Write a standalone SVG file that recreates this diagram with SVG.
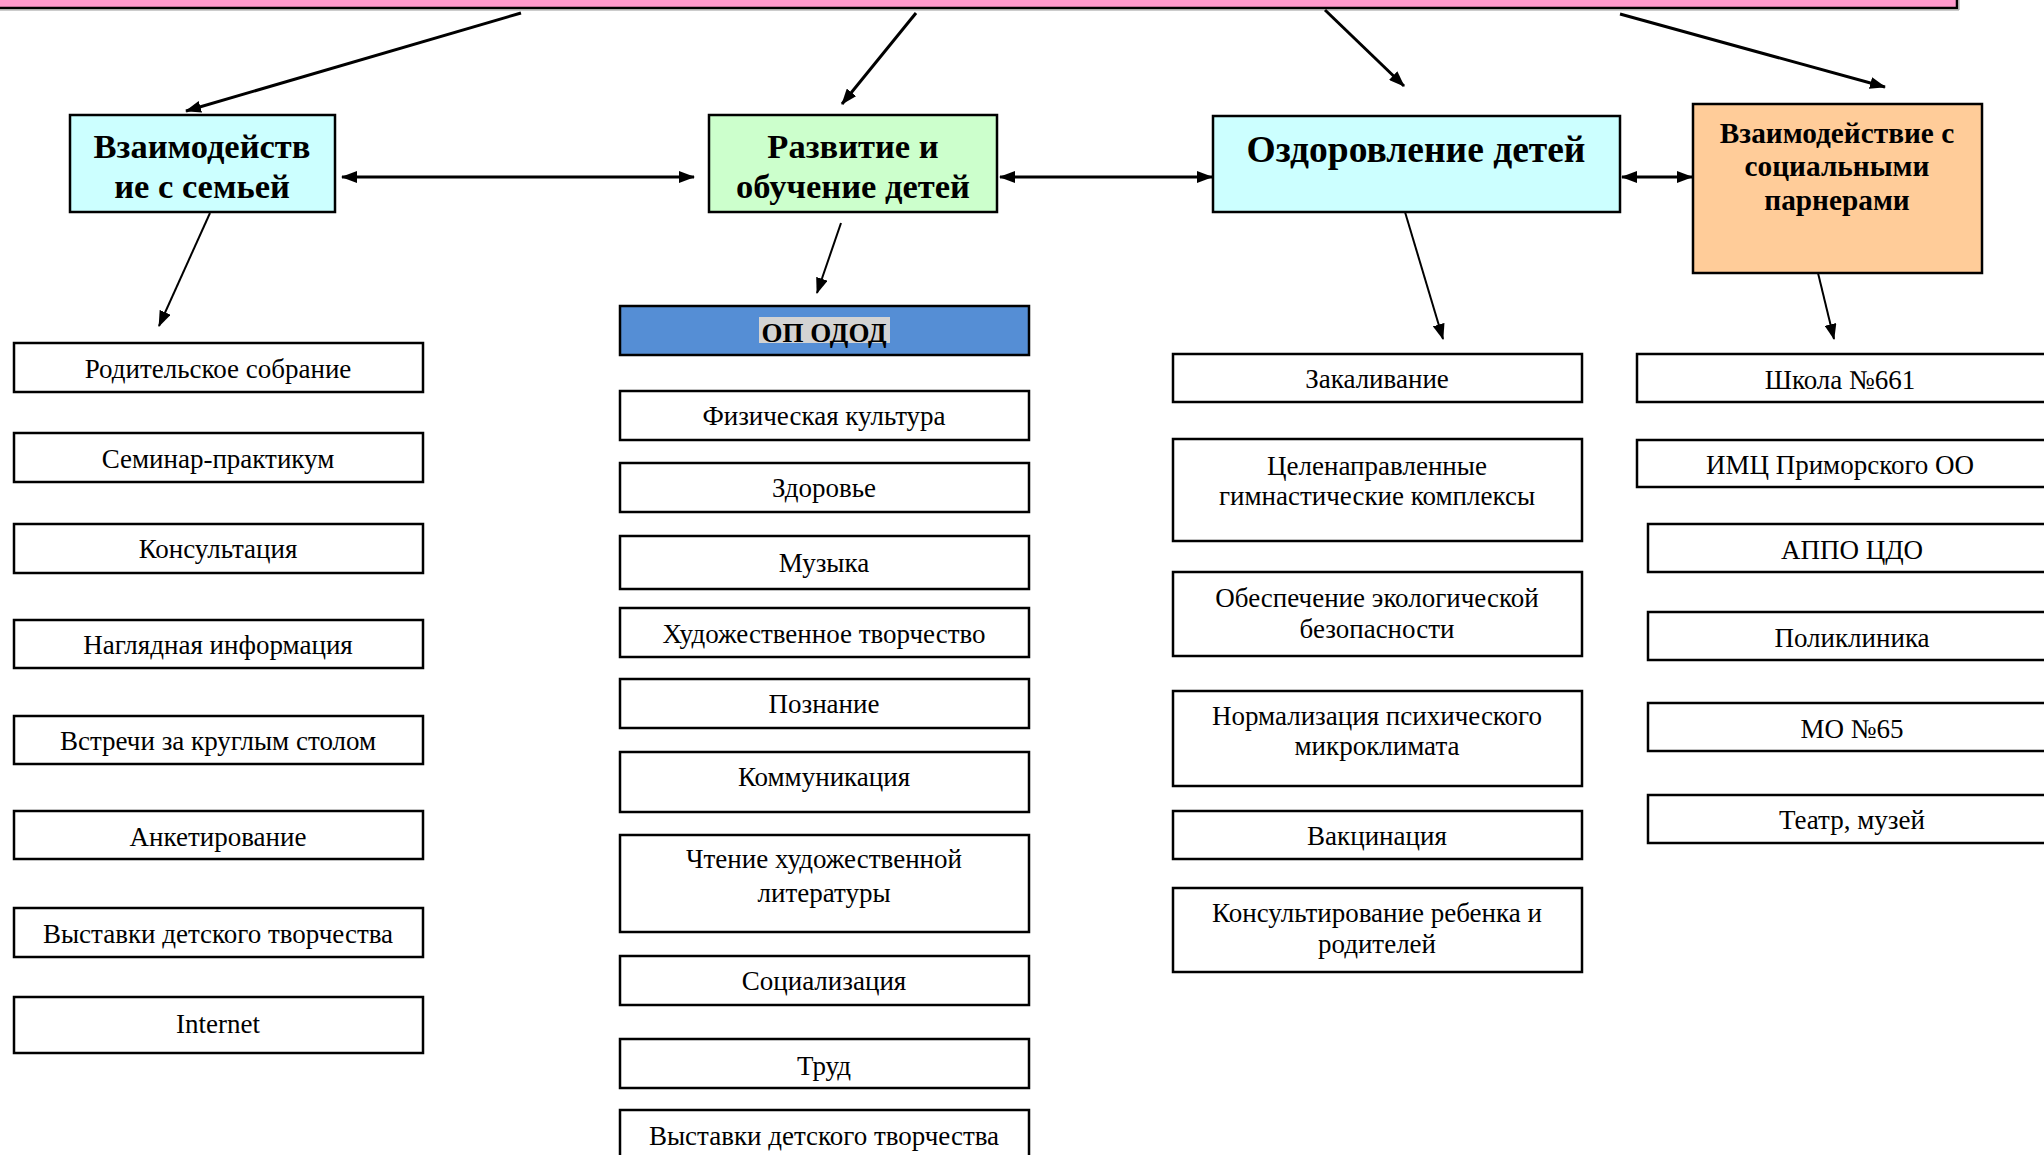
<svg xmlns="http://www.w3.org/2000/svg" width="2044" height="1155" viewBox="0 0 2044 1155">
<defs>
<style>
.box{fill:#ffffff;stroke:#000;stroke-width:2.5}
.t{font-family:"Liberation Serif","Times New Roman",serif;font-size:27px;fill:#000;text-anchor:middle}
.h{font-family:"Liberation Serif","Times New Roman",serif;font-weight:bold;fill:#000;text-anchor:middle}
.c{fill:none;stroke:#000}
</style>
<marker id="ah" viewBox="0 0 16 12" markerUnits="userSpaceOnUse" markerWidth="16" markerHeight="12" refX="15" refY="6" orient="auto-start-reverse">
<path d="M0,0 L16,6 L0,12 z" fill="#000"/>
</marker>
</defs>
<rect width="2044" height="1155" fill="#fff"/>
<g id="top-bar">
<rect x="-6" y="-12" width="1963" height="20" fill="#FF99CC" stroke="#000" stroke-width="2.5"/>
<line x1="-6" y1="10" x2="1959" y2="10" stroke="#999" stroke-width="1"/>
<line x1="1959" y1="-2" x2="1959" y2="10" stroke="#999" stroke-width="1"/>
</g>
<g id="connectors">
<line class="c" x1="521" y1="13" x2="186" y2="111" stroke-width="3" marker-end="url(#ah)"/>
<line class="c" x1="916" y1="13" x2="842" y2="104" stroke-width="3" marker-end="url(#ah)"/>
<line class="c" x1="1325" y1="10" x2="1404" y2="86" stroke-width="3" marker-end="url(#ah)"/>
<line class="c" x1="1620" y1="14" x2="1885" y2="87" stroke-width="3" marker-end="url(#ah)"/>
<line class="c" x1="342" y1="177" x2="694" y2="177" stroke-width="3" marker-start="url(#ah)" marker-end="url(#ah)"/>
<line class="c" x1="1000" y1="177" x2="1212" y2="177" stroke-width="3" marker-start="url(#ah)" marker-end="url(#ah)"/>
<line class="c" x1="1622" y1="177" x2="1692" y2="177" stroke-width="3" marker-start="url(#ah)" marker-end="url(#ah)"/>
<line class="c" x1="210" y1="213" x2="159" y2="326" stroke-width="2" marker-end="url(#ah)"/>
<line class="c" x1="841" y1="223" x2="817" y2="293" stroke-width="2" marker-end="url(#ah)"/>
<line class="c" x1="1405" y1="212" x2="1443" y2="339" stroke-width="2" marker-end="url(#ah)"/>
<line class="c" x1="1818" y1="273" x2="1834" y2="339" stroke-width="2" marker-end="url(#ah)"/>
</g>
<g id="family">
<rect x="70" y="115" width="265" height="97" fill="#CCFFFF" stroke="#000" stroke-width="2.5"/>
<text class="h" font-size="34.5" x="202" y="158">Взаимодейств</text>
<text class="h" font-size="34.5" x="202" y="198">ие с семьей</text>
</g>
<g id="development">
<rect x="709" y="115" width="288" height="97" fill="#CCFFCC" stroke="#000" stroke-width="2.5"/>
<text class="h" font-size="34.5" x="853" y="158">Развитие и</text>
<text class="h" font-size="34.5" x="853" y="198">обучение детей</text>
</g>
<g id="health">
<rect x="1213" y="116" width="407" height="96" fill="#CCFFFF" stroke="#000" stroke-width="2.5"/>
<text class="h" font-size="37.5" x="1416" y="162">Оздоровление детей</text>
</g>
<g id="partners">
<rect x="1693" y="104" width="289" height="169" fill="#FFCC99" stroke="#000" stroke-width="2.5"/>
<text class="h" font-size="29.3" x="1837" y="143">Взаимодействие с</text>
<text class="h" font-size="29.3" x="1837" y="176">социальными</text>
<text class="h" font-size="29.3" x="1837" y="210">парнерами</text>
</g>
<g id="f1"><rect class="box" x="14" y="343" width="409" height="49"/><text class="t" x="218" y="378">Родительское собрание</text></g>
<g id="f2"><rect class="box" x="14" y="433" width="409" height="49"/><text class="t" x="218" y="468">Семинар-практикум</text></g>
<g id="f3"><rect class="box" x="14" y="524" width="409" height="49"/><text class="t" x="218" y="558">Консультация</text></g>
<g id="f4"><rect class="box" x="14" y="620" width="409" height="48"/><text class="t" x="218" y="654">Наглядная информация</text></g>
<g id="f5"><rect class="box" x="14" y="716" width="409" height="48"/><text class="t" x="218" y="750">Встречи за круглым столом</text></g>
<g id="f6"><rect class="box" x="14" y="811" width="409" height="48"/><text class="t" x="218" y="846">Анкетирование</text></g>
<g id="f7"><rect class="box" x="14" y="908" width="409" height="49"/><text class="t" x="218" y="943">Выставки детского творчества</text></g>
<g id="f8"><rect class="box" x="14" y="997" width="409" height="56"/><text class="t" x="218" y="1033">Internet</text></g>
<g id="opodod">
<rect x="620" y="306" width="409" height="49" fill="#558ED5" stroke="#000" stroke-width="2.5"/>
<rect x="759" y="317" width="131" height="26" fill="#D3D3D3"/>
<text class="h" font-size="27" x="824" y="342">ОП ОДОД</text>
</g>
<g id="d1"><rect class="box" x="620" y="391" width="409" height="49"/><text class="t" x="824" y="425">Физическая культура</text></g>
<g id="d2"><rect class="box" x="620" y="463" width="409" height="49"/><text class="t" x="824" y="497">Здоровье</text></g>
<g id="d3"><rect class="box" x="620" y="536" width="409" height="53"/><text class="t" x="824" y="572">Музыка</text></g>
<g id="d4"><rect class="box" x="620" y="608" width="409" height="49"/><text class="t" x="824" y="643">Художественное творчество</text></g>
<g id="d5"><rect class="box" x="620" y="679" width="409" height="49"/><text class="t" x="824" y="713">Познание</text></g>
<g id="d6"><rect class="box" x="620" y="752" width="409" height="60"/><text class="t" x="824" y="786">Коммуникация</text></g>
<g id="d7"><rect class="box" x="620" y="835" width="409" height="97"/><text class="t" x="824" y="868">Чтение художественной</text><text class="t" x="824" y="902">литературы</text></g>
<g id="d8"><rect class="box" x="620" y="956" width="409" height="49"/><text class="t" x="824" y="990">Социализация</text></g>
<g id="d9"><rect class="box" x="620" y="1039" width="409" height="49"/><text class="t" x="824" y="1075">Труд</text></g>
<g id="d10"><rect class="box" x="620" y="1110" width="409" height="60"/><text class="t" x="824" y="1145">Выставки детского творчества</text></g>
<g id="h1"><rect class="box" x="1173" y="354" width="409" height="48"/><text class="t" x="1377" y="388">Закаливание</text></g>
<g id="h2"><rect class="box" x="1173" y="439" width="409" height="102"/><text class="t" x="1377" y="475">Целенаправленные</text><text class="t" x="1377" y="505">гимнастические комплексы</text></g>
<g id="h3"><rect class="box" x="1173" y="572" width="409" height="84"/><text class="t" x="1377" y="607">Обеспечение экологической</text><text class="t" x="1377" y="638">безопасности</text></g>
<g id="h4"><rect class="box" x="1173" y="691" width="409" height="95"/><text class="t" x="1377" y="725">Нормализация психического</text><text class="t" x="1377" y="755">микроклимата</text></g>
<g id="h5"><rect class="box" x="1173" y="811" width="409" height="48"/><text class="t" x="1377" y="845">Вакцинация</text></g>
<g id="h6"><rect class="box" x="1173" y="888" width="409" height="84"/><text class="t" x="1377" y="922">Консультирование ребенка и</text><text class="t" x="1377" y="953">родителей</text></g>
<g id="p1"><rect class="box" x="1637" y="354" width="409" height="48"/><text class="t" x="1840" y="389">Школа №661</text></g>
<g id="p2"><rect class="box" x="1637" y="440" width="409" height="47"/><text class="t" x="1840" y="474">ИМЦ Приморского ОО</text></g>
<g id="p3"><rect class="box" x="1648" y="524" width="409" height="48"/><text class="t" x="1852" y="559">АППО ЦДО</text></g>
<g id="p4"><rect class="box" x="1648" y="612" width="409" height="48"/><text class="t" x="1852" y="647">Поликлиника</text></g>
<g id="p5"><rect class="box" x="1648" y="703" width="409" height="48"/><text class="t" x="1852" y="738">МО №65</text></g>
<g id="p6"><rect class="box" x="1648" y="795" width="409" height="48"/><text class="t" x="1852" y="829">Театр, музей</text></g>
</svg>
